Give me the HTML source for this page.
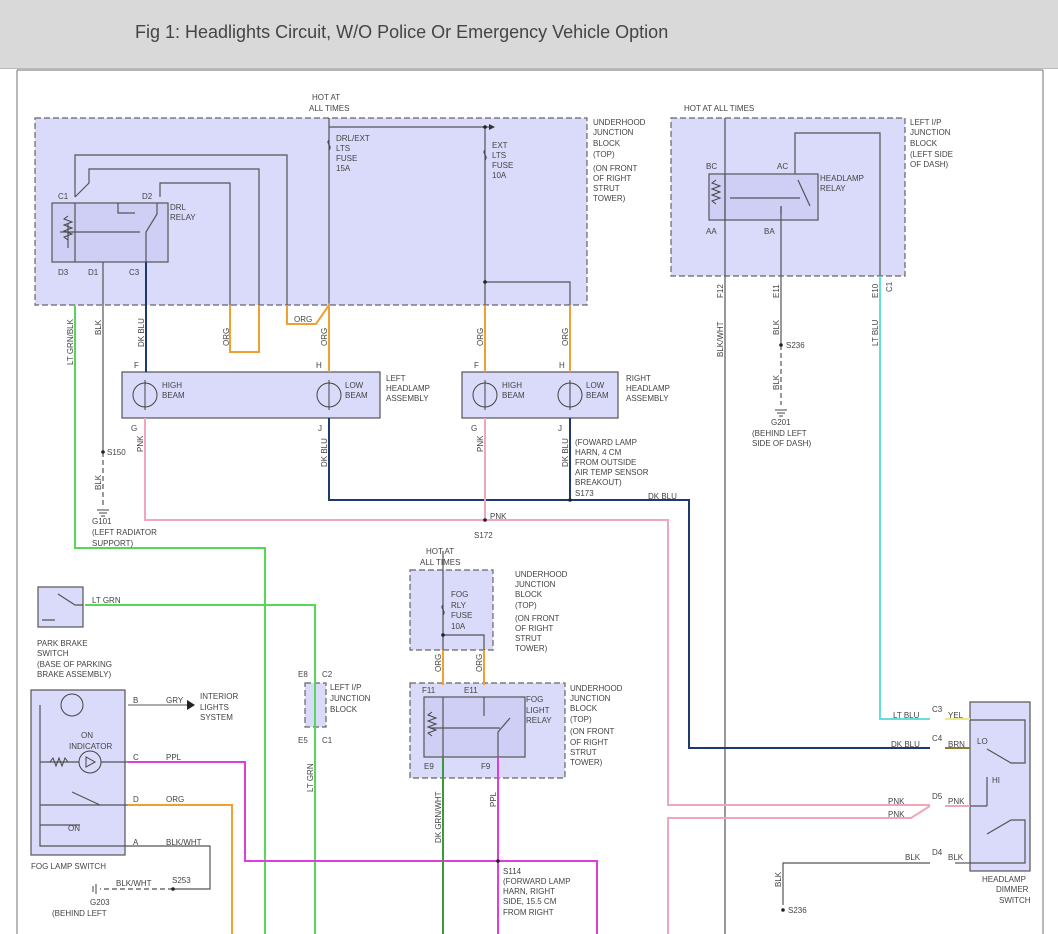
<!DOCTYPE html>
<html><head><meta charset="utf-8"><style>
body{margin:0;background:#fff;width:1058px;height:934px;overflow:hidden;font-family:"Liberation Sans",sans-serif}
#hdr{position:absolute;left:0;top:0;width:1058px;height:68px;background:#d9d9d9;border-bottom:1px solid #bbb}
#hdr span{position:absolute;left:135px;top:22px;font-size:18px;color:#444}
svg{position:absolute;left:0;top:0}
text{font-family:"Liberation Sans",sans-serif;font-size:8px;fill:#444}
</style></head><body>
<div id="hdr"><span>Fig 1: Headlights Circuit, W/O Police Or Emergency Vehicle Option</span></div>
<svg width="1058" height="934" viewBox="0 0 1058 934">
<g fill="none" stroke="#888" stroke-width="1.2">
<line x1="17" y1="70" x2="17" y2="934"/><line x1="1043" y1="70" x2="1043" y2="934"/><line x1="17" y1="70" x2="1043" y2="70"/>
</g>
<g stroke="#666" stroke-dasharray="6,3" fill="#dadafa" stroke-width="1.2">
<rect x="35" y="118" width="552" height="187"/>
<rect x="671" y="118" width="234" height="158"/>
<rect x="410" y="570" width="83" height="80"/>
<rect x="410" y="683" width="155" height="95"/>
<rect x="305" y="683" width="21" height="44"/>
</g>
<g stroke="#555" fill="#cfcff5" stroke-width="1.2">
<rect x="52" y="203" width="116" height="59"/>
<rect x="709" y="174" width="109" height="46"/>
<rect x="424" y="697" width="101" height="60"/>
<rect x="122" y="372" width="258" height="46" fill="#dadafa"/>
<rect x="462" y="372" width="156" height="46" fill="#dadafa"/>
<rect x="38" y="587" width="45" height="40" fill="#dadafa"/>
<rect x="31" y="690" width="94" height="165" fill="#dadafa"/>
<rect x="970" y="702" width="60" height="169" fill="#dadafa"/>
</g>
<g fill="none" stroke="#555" stroke-width="1.2">
<path d="M329 118V305M329 127H490M485 127V372M485 282H570V305"/>
<path d="M75 262V203M75 197V155H287V305M75 197L89 183V169H259V305M160 197V183H230V305"/>
<path d="M103 262V452"/><path d="M103 452V505" stroke-dasharray="5,3"/>
<path d="M725 118V934M781 206V345M795 174V133H880V276"/>
<path d="M781 345V405" stroke-dasharray="5,3"/>
<path d="M930 863H783V905"/>
<path d="M443 551V685M443 635H484V685"/>
<path d="M128 846H210V889H173"/><path d="M173 889H100" stroke-dasharray="5,3"/>
<path d="M128 705H190" stroke="#aaa" stroke-width="2"/>
<path d="M970 720H1025V763H1011L987 749M987 777V806M970 806H987M970 863H1025V820H1011L987 834"/>
<path d="M955 863H970"/>
<path d="M68 224V248M146 262V232L157 214V203M118 203V213H135M60 232H140" />
<path d="M443 757V697M484 697V716M498 757V732L510 718M430 728H500"/>
<path d="M725 220V174M781 206V214M798 180L810 206M730 198H800"/>
<path d="M40 705V846H128M40 762H128M40 805H128M40 825H80M72 792L100 805"/>
<path d="M58 594L75 605H83M42 620H55"/>
</g>
<g fill="none" stroke="#444" stroke-width="1">
<path d="M68 216l-4 3 8 3-8 3 8 3-8 3 8 3-8 3 4 3"/>
<path d="M716 180l-4 3 8 3-8 3 8 3-8 3 8 3-8 3 4 3"/>
<path d="M432 712l-4 3 8 3-8 3 8 3-8 3 8 3-8 3 4 3"/>
<path d="M329 140c-4 3 4 6 0 10M485 150c-4 3 4 6 0 10M443 605c-4 3 4 6 0 10"/>
<path d="M50 762l3-4 3 8 3-8 3 8 3-8 3 4"/>
</g>
<g fill="#dadafa" stroke="#444" stroke-width="1">
<circle cx="145" cy="395" r="12"/><circle cx="329" cy="395" r="12"/>
<circle cx="485" cy="395" r="12"/><circle cx="570" cy="395" r="12"/>
<circle cx="72" cy="705" r="11"/><circle cx="90" cy="762" r="11"/>
</g>
<g fill="none" stroke="#444"><path d="M145 380V410M329 380V410M485 380V410M570 380V410"/><path d="M86 757V767L95 762Z"/></g>
<g fill="none" stroke-width="2">
<path d="M75 305V548H265V934" stroke="#55d855"/>
<path d="M85 605H315V934" stroke="#55d855"/>
<path d="M146 262V372" stroke="#1d3a6e"/>
<path d="M329 418V500H689V748H930M570 418V500" stroke="#1d3a6e"/>
<path d="M287 305V324H316L329 305V372M230 305V352H259V305M485 305V372M570 305V372" stroke="#f0a030"/>
<path d="M443 650V685M484 650V685" stroke="#f0a030"/>
<path d="M128 805H232V934" stroke="#f0a030"/>
<path d="M145 418V520H668V805H930M485 418V520M668 934V818H911L930 806M945 806H970" stroke="#f0a6ba"/>
<path d="M880 276V719H930" stroke="#66dede"/>
<path d="M945 719H970" stroke="#eee888"/>
<path d="M945 748H970" stroke="#8a7a30"/>
<path d="M128 762H245V861H597V934M498 757V934" stroke="#dd3ddd"/>
<path d="M443 757V934" stroke="#3a9a3a"/>
</g>
<path d="M195 705l-8-5v10z" fill="#222"/>
<path d="M495 127l-6-3v6z" fill="#333"/>
<g fill="#222">
<circle cx="485" cy="127" r="1.8"/><circle cx="485" cy="282" r="1.8"/><circle cx="103" cy="452" r="1.8"/>
<circle cx="485" cy="520" r="1.8"/><circle cx="570" cy="500" r="1.8"/><circle cx="781" cy="345" r="1.8"/>
<circle cx="783" cy="910" r="1.8"/><circle cx="498" cy="861" r="1.8"/><circle cx="173" cy="889" r="1.8"/>
<circle cx="443" cy="635" r="1.8"/>
</g>
<g stroke="#444"><path d="M97 510h12M99 513h8M101 516h4M775 410h12M777 413h8M779 416h4M96 884v10M93 886v6"/></g>
<text x="312" y="100">HOT AT</text><text x="309" y="111">ALL TIMES</text>
<text x="336" y="141">DRL/EXT</text><text x="336" y="151">LTS</text><text x="336" y="161">FUSE</text><text x="336" y="171">15A</text>
<text x="492" y="148">EXT</text><text x="492" y="158">LTS</text><text x="492" y="168">FUSE</text><text x="492" y="178">10A</text>
<text x="593" y="125">UNDERHOOD</text><text x="593" y="135">JUNCTION</text><text x="593" y="146">BLOCK</text><text x="593" y="157">(TOP)</text>
<text x="593" y="171">(ON FRONT</text><text x="593" y="181">OF RIGHT</text><text x="593" y="191">STRUT</text><text x="593" y="201">TOWER)</text>
<text x="58" y="199">C1</text><text x="142" y="199">D2</text><text x="170" y="210">DRL</text><text x="170" y="220">RELAY</text>
<text x="58" y="275">D3</text><text x="88" y="275">D1</text><text x="129" y="275">C3</text>
<text x="294" y="322">ORG</text>
<text transform="translate(73,365) rotate(-90)">LT GRN/BLK</text>
<text transform="translate(101,335) rotate(-90)">BLK</text>
<text transform="translate(144,347) rotate(-90)">DK BLU</text>
<text transform="translate(229,346) rotate(-90)">ORG</text>
<text transform="translate(327,346) rotate(-90)">ORG</text>
<text transform="translate(483,346) rotate(-90)">ORG</text>
<text transform="translate(568,346) rotate(-90)">ORG</text>
<text x="134" y="368">F</text><text x="316" y="368">H</text><text x="474" y="368">F</text><text x="559" y="368">H</text>
<text x="162" y="388">HIGH</text><text x="162" y="398">BEAM</text><text x="345" y="388">LOW</text><text x="345" y="398">BEAM</text>
<text x="502" y="388">HIGH</text><text x="502" y="398">BEAM</text><text x="586" y="388">LOW</text><text x="586" y="398">BEAM</text>
<text x="386" y="381">LEFT</text><text x="386" y="391">HEADLAMP</text><text x="386" y="401">ASSEMBLY</text>
<text x="626" y="381">RIGHT</text><text x="626" y="391">HEADLAMP</text><text x="626" y="401">ASSEMBLY</text>
<text x="131" y="431">G</text><text x="318" y="431">J</text><text x="471" y="431">G</text><text x="558" y="431">J</text>
<text transform="translate(143,452) rotate(-90)">PNK</text>
<text transform="translate(327,467) rotate(-90)">DK BLU</text>
<text transform="translate(483,452) rotate(-90)">PNK</text>
<text transform="translate(568,467) rotate(-90)">DK BLU</text>
<text x="575" y="445">(FOWARD LAMP</text><text x="575" y="455">HARN, 4 CM</text><text x="575" y="465">FROM OUTSIDE</text><text x="575" y="475">AIR TEMP SENSOR</text><text x="575" y="485">BREAKOUT)</text>
<text x="575" y="496">S173</text><text x="648" y="499">DK BLU</text>
<text x="490" y="519">PNK</text><text x="474" y="538">S172</text>
<text x="107" y="455">S150</text><text transform="translate(101,490) rotate(-90)">BLK</text>
<text x="92" y="524">G101</text><text x="92" y="535">(LEFT RADIATOR</text><text x="92" y="546">SUPPORT)</text>
<text x="684" y="111">HOT AT ALL TIMES</text>
<text x="910" y="125">LEFT I/P</text><text x="910" y="135">JUNCTION</text><text x="910" y="146">BLOCK</text><text x="910" y="157">(LEFT SIDE</text><text x="910" y="167">OF DASH)</text>
<text x="706" y="169">BC</text><text x="777" y="169">AC</text><text x="820" y="181">HEADLAMP</text><text x="820" y="191">RELAY</text>
<text x="706" y="234">AA</text><text x="764" y="234">BA</text>
<text transform="translate(723,298) rotate(-90)">F12</text>
<text transform="translate(779,298) rotate(-90)">E11</text>
<text transform="translate(878,298) rotate(-90)">E10</text>
<text transform="translate(892,292) rotate(-90)">C1</text>
<text transform="translate(723,357) rotate(-90)">BLK/WHT</text>
<text transform="translate(779,335) rotate(-90)">BLK</text>
<text transform="translate(878,346) rotate(-90)">LT BLU</text>
<text x="786" y="348">S236</text><text transform="translate(779,390) rotate(-90)">BLK</text>
<text x="771" y="425">G201</text><text x="752" y="436">(BEHIND LEFT</text><text x="752" y="446">SIDE OF DASH)</text>
<text x="92" y="603">LT GRN</text>
<text x="37" y="646">PARK BRAKE</text><text x="37" y="656">SWITCH</text><text x="37" y="667">(BASE OF PARKING</text><text x="37" y="677">BRAKE ASSEMBLY)</text>
<text x="426" y="554">HOT AT</text><text x="420" y="565">ALL TIMES</text>
<text x="451" y="597">FOG</text><text x="451" y="608">RLY</text><text x="451" y="618">FUSE</text><text x="451" y="629">10A</text>
<text x="515" y="577">UNDERHOOD</text><text x="515" y="587">JUNCTION</text><text x="515" y="597">BLOCK</text><text x="515" y="608">(TOP)</text><text x="515" y="621">(ON FRONT</text><text x="515" y="631">OF RIGHT</text><text x="515" y="641">STRUT</text><text x="515" y="651">TOWER)</text>
<text transform="translate(441,672) rotate(-90)">ORG</text><text transform="translate(482,672) rotate(-90)">ORG</text>
<text x="422" y="693">F11</text><text x="464" y="693">E11</text>
<text x="526" y="702">FOG</text><text x="526" y="713">LIGHT</text><text x="526" y="723">RELAY</text>
<text x="570" y="691">UNDERHOOD</text><text x="570" y="701">JUNCTION</text><text x="570" y="711">BLOCK</text><text x="570" y="722">(TOP)</text><text x="570" y="734">(ON FRONT</text><text x="570" y="745">OF RIGHT</text><text x="570" y="755">STRUT</text><text x="570" y="765">TOWER)</text>
<text x="424" y="769">E9</text><text x="481" y="769">F9</text>
<text transform="translate(441,843) rotate(-90)">DK GRN/WHT</text>
<text transform="translate(496,807) rotate(-90)">PPL</text>
<text x="503" y="874">S114</text><text x="503" y="884">(FORWARD LAMP</text><text x="503" y="894">HARN, RIGHT</text><text x="503" y="904">SIDE, 15.5 CM</text><text x="503" y="915">FROM RIGHT</text>
<text x="298" y="677">E8</text><text x="322" y="677">C2</text><text x="298" y="743">E5</text><text x="322" y="743">C1</text>
<text x="330" y="690">LEFT I/P</text><text x="330" y="701">JUNCTION</text><text x="330" y="712">BLOCK</text>
<text transform="translate(313,792) rotate(-90)">LT GRN</text>
<text x="133" y="703">B</text><text x="166" y="703">GRY</text>
<text x="200" y="699">INTERIOR</text><text x="200" y="710">LIGHTS</text><text x="200" y="720">SYSTEM</text>
<text x="81" y="738">ON</text><text x="69" y="749">INDICATOR</text>
<text x="133" y="760">C</text><text x="166" y="760">PPL</text>
<text x="133" y="802">D</text><text x="166" y="802">ORG</text>
<text x="68" y="831">ON</text>
<text x="133" y="845">A</text><text x="166" y="845">BLK/WHT</text>
<text x="31" y="869">FOG LAMP SWITCH</text>
<text x="116" y="886">BLK/WHT</text><text x="172" y="883">S253</text>
<text x="90" y="905">G203</text><text x="52" y="916">(BEHIND LEFT</text>
<text x="893" y="718">LT BLU</text><text x="932" y="712">C3</text><text x="948" y="718">YEL</text>
<text x="891" y="747">DK BLU</text><text x="932" y="741">C4</text><text x="948" y="747">BRN</text>
<text x="977" y="744">LO</text><text x="992" y="783">HI</text>
<text x="888" y="804">PNK</text><text x="932" y="799">D5</text><text x="948" y="804">PNK</text>
<text x="888" y="817">PNK</text>
<text x="905" y="860">BLK</text><text x="932" y="855">D4</text><text x="948" y="860">BLK</text>
<text transform="translate(781,887) rotate(-90)">BLK</text><text x="788" y="913">S236</text>
<text x="982" y="882">HEADLAMP</text><text x="996" y="892">DIMMER</text><text x="999" y="903">SWITCH</text>
</svg>
</body></html>
